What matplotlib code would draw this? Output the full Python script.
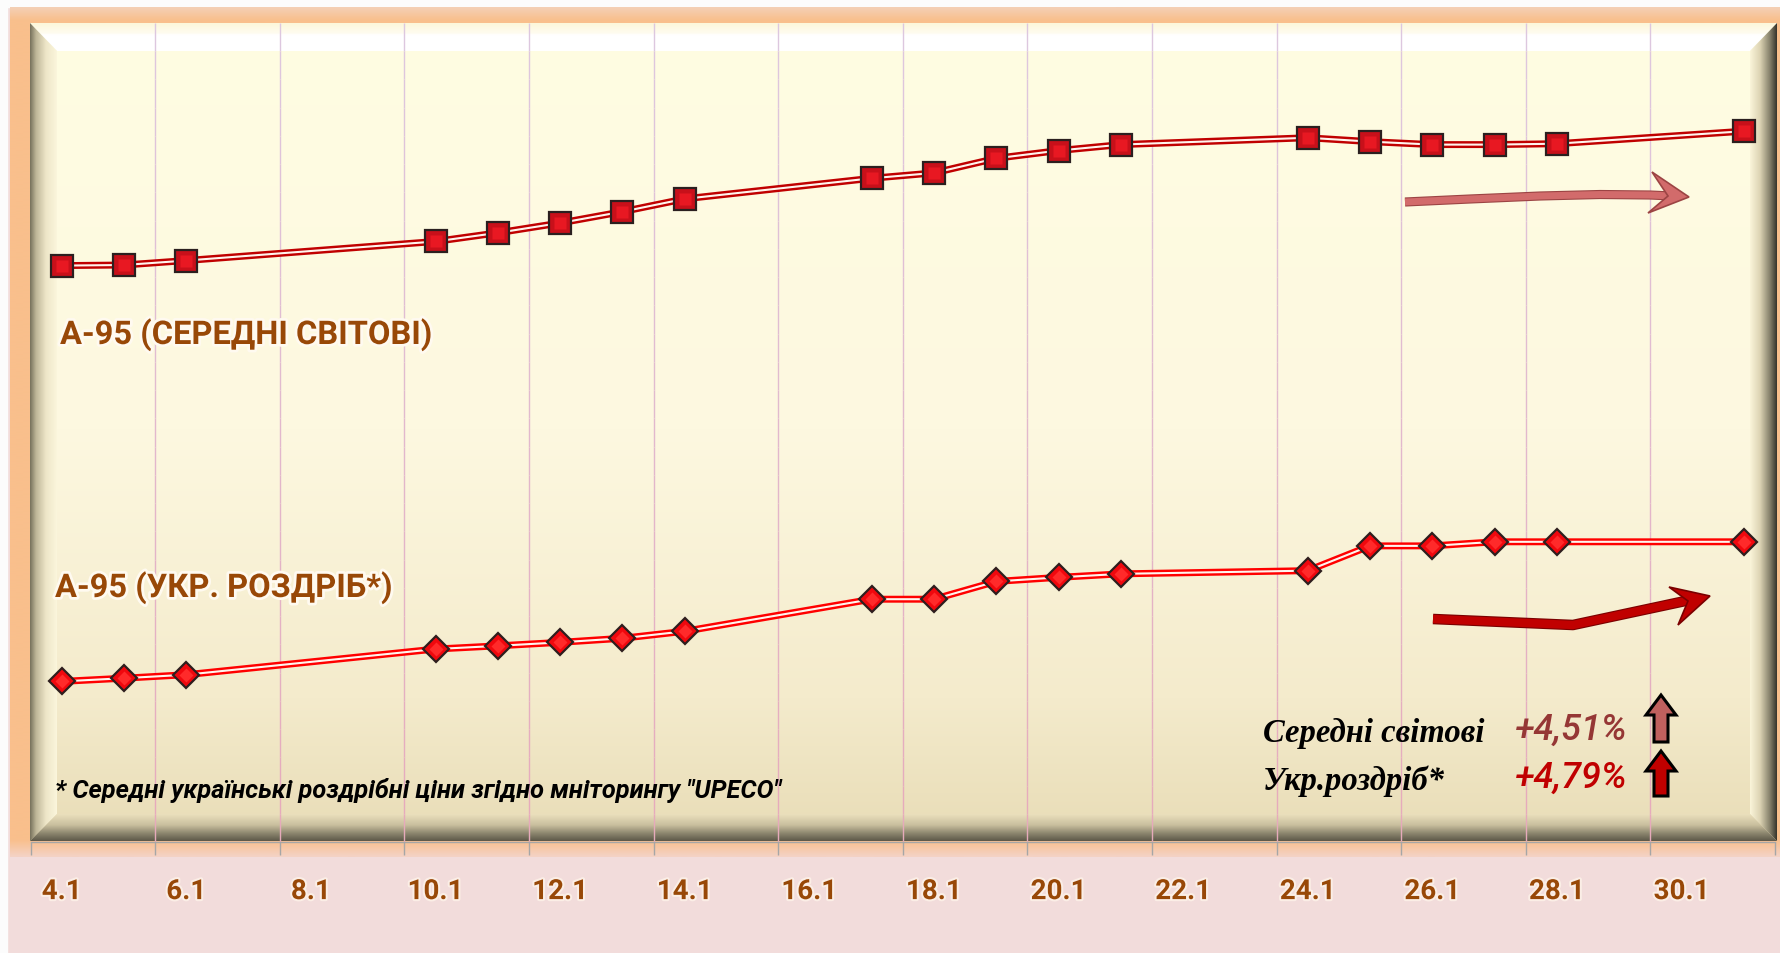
import numpy as np
import matplotlib
matplotlib.use('Agg')
import matplotlib.pyplot as plt
import matplotlib.patheffects as pe
from matplotlib.colors import to_rgb
from matplotlib.patches import Polygon, Rectangle
from matplotlib.collections import LineCollection

# data: January days and price index (start = 100)
days = [4, 5, 6, 10, 11, 12, 13, 14, 17, 18, 19, 20, 21, 24, 25, 26, 27, 28, 31]
world = [100.00, 100.02, 100.17, 100.81, 101.10, 101.43, 101.81, 102.24, 102.93, 103.11,
         103.60, 103.86, 104.06, 104.29, 104.16, 104.06, 104.06, 104.09, 104.51]
retail = [100.00, 100.11, 100.23, 101.11, 101.22, 101.34, 101.48, 101.72, 102.82, 102.82,
          103.43, 103.57, 103.69, 103.80, 104.65, 104.65, 104.79, 104.79, 104.79]
tick_days = list(range(4, 31, 2))
tick_labels = [f'{d}.1' for d in tick_days]
label_world = 'А-95 (СЕРЕДНІ СВІТОВІ)'
label_retail = 'А-95 (УКР. РОЗДРІБ*)'
footnote = '* Середні українські роздрібні ціни згідно мніторингу "UPECO"'
summary_names = ['Середні світові', 'Укр.роздріб*']
summary_values = ['+4,51%', '+4,79%']

W, H = 1781, 954
BROWN = '#984807'


def gradient(ax, x0, y0, x1, y1, stops, vertical=True, clip=None, zorder=1):
    """Fill a box with a multi-stop linear gradient; stops = [(pos, color), ...] in pixels."""
    n = 400
    t = np.linspace(y0, y1, n) if vertical else np.linspace(x0, x1, n)
    pos = [s[0] for s in stops]
    cols = np.array([to_rgb(s[1]) for s in stops])
    img = np.stack([np.interp(t, pos, cols[:, k]) for k in range(3)], axis=-1)
    img = img[:, None, :] if vertical else img[None, :, :]
    im = ax.imshow(img, extent=(x0, x1, y1, y0), aspect='auto',
                   interpolation='bilinear', zorder=zorder)
    if clip is not None:
        poly = Polygon(clip, closed=True, transform=ax.transData, facecolor='none', edgecolor='none')
        ax.add_patch(poly)
        im.set_clip_path(poly)
    return im


fig = plt.figure(figsize=(W / 100, H / 100), dpi=100)

# ---- background, frame and bevel (pixel coordinates) ----
bg = fig.add_axes([0, 0, 1, 1], zorder=0)
bg.set_autoscale_on(False)
bg.set_xlim(0, W)
bg.set_ylim(H, 0)
bg.axis('off')
bg.add_patch(Rectangle((0, 0), W, H, color='#f2dcdb', zorder=0))
bg.add_patch(Rectangle((0, 0), W, 8, color='#fcfcfc', zorder=0))
bg.add_patch(Rectangle((0, 0), 7, H, color='#fcfcfc', zorder=0))
gradient(bg, 10, 8, W, 858, [(8, '#f4cfb4'), (20, '#f9bf8c'), (842, '#f9bf8c'), (858, '#f4d2c4')], zorder=0.5)

ox0, oy0, ox1, oy1 = 30, 24, 1777, 842
ix0, iy0, ix1, iy1 = 57, 52, 1750, 815
gradient(bg, ox0, oy0, ox1, oy1,
         [(oy0, '#fffde2'), (430, '#fdf8e0'), (700, '#f4ebcc'), (oy1, '#e8dcb6')], zorder=1)
# bevel sides
gradient(bg, ox0, oy0, ox1, iy0, [(oy0, '#fcf7d9'), (34, '#fffcf0'), (36, '#ffffff'), (iy0, '#ffffff')],
         clip=[(ox0, oy0), (ox1, oy0), (ix1, iy0), (ix0, iy0)], zorder=1.2)
gradient(bg, ox0, oy0, ix0, oy1, [(ox0, '#756f5a'), (36, '#bdb597'), (46, '#eee6c8'), (ix0, '#fbf6dc')],
         vertical=False, clip=[(ox0, oy0), (ix0, iy0), (ix0, iy1), (ox0, oy1)], zorder=1.2)
gradient(bg, ix1, oy0, ox1, oy1, [(ix1, '#fbf5da'), (1760, '#ddd4b4'), (1770, '#85806a'), (ox1, '#34322a')],
         vertical=False, clip=[(ox1, oy0), (ox1, oy1), (ix1, iy1), (ix1, iy0)], zorder=1.2)
gradient(bg, ox0, iy1, ox1, oy1, [(iy1, '#ebe0bd'), (826, '#c9bf9e'), (834, '#8e8870'), (oy1, '#5c5848')],
         clip=[(ox0, oy1), (ix0, iy1), (ix1, iy1), (ox1, oy1)], zorder=1.2)

# ---- data axes ----
ax = fig.add_axes([30.6 / W, (H - 843) / H, (1775 - 30.6) / W, (843 - 24) / H], zorder=2)
ax.patch.set_visible(False)
ax.set_xlim(3.5, 31.5)
ax.set_ylim(94.49, 122.59)
ax2 = ax.twinx()
ax2.set_ylim(80.66, 108.14)
for a in (ax, ax2):
    for s in ('top', 'left', 'right'):
        a.spines[s].set_visible(False)
    a.set_yticks([])
ax2.spines['bottom'].set_visible(False)
ax.spines['bottom'].set_color('#a6a6a6')
ax.spines['bottom'].set_linewidth(1.0)

ax.set_xticks(np.arange(3.5, 32, 2))
ax.set_xticklabels([])
ax.tick_params(axis='x', which='major', length=9, width=1, color='#a6a6a6', direction='out')
ax.set_xticks(tick_days, minor=True)
ax.set_xticklabels(tick_labels, minor=True, fontsize=20, fontweight='bold',
                   color=BROWN, family=['Roboto', 'DejaVu Sans'])
ax.tick_params(axis='x', which='minor', length=0, pad=26)
for lab in ax.get_xticklabels(minor=True):
    lab.set_path_effects([pe.withStroke(linewidth=3, foreground='#fbeee6')])

# vertical gridlines, lavender at top fading to pink at bottom
grid_x = np.arange(5.5, 30, 2)
ys = np.linspace(0, 1, 30)
top_c = np.array(to_rgb('#ddc8e0'))
bot_c = np.array(to_rgb('#e6aabb'))
segs, cols = [], []
for gx in grid_x:
    for k in range(len(ys) - 1):
        segs.append([(gx, ys[k]), (gx, ys[k + 1])])
        f = ys[k]
        cols.append(bot_c * (1 - f) + top_c * f)
ax.add_collection(LineCollection(segs, colors=cols, linewidths=1.0,
                                 transform=ax.get_xaxis_transform(), zorder=1))

# world average series (squares)
ax2.plot(days, world, color='#c00000', lw=5.0, solid_joinstyle='round', zorder=3)
ax2.plot(days, world, color='#fff4ee', lw=1.5, solid_joinstyle='round', zorder=4)
ax2.plot(days, world, ls='none', marker='s', ms=15.5, mfc='#c8101a', mec='#2b1f1f', mew=1.6, zorder=5)
ax2.plot(days, world, ls='none', marker='s', ms=8, mfc='#e81822', mec='none', zorder=6)

# Ukrainian retail series (diamonds)
ax.plot(days, retail, color='#ff0000', lw=5.0, solid_joinstyle='round', zorder=3)
ax.plot(days, retail, color='#fff4ee', lw=1.5, solid_joinstyle='round', zorder=4)
ax.plot(days, retail, ls='none', marker='D', ms=13.5, mfc='#f0080e', mec='#2e1e1e', mew=1.6, zorder=5)
ax.plot(days, retail, ls='none', marker='D', ms=7, mfc='#ff2a2a', mec='none', zorder=6)

# ---- overlay: texts and arrows ----
ov = fig.add_axes([0, 0, 1, 1], zorder=3)
ov.set_autoscale_on(False)
ov.set_xlim(0, W)
ov.set_ylim(H, 0)
ov.axis('off')
ov.patch.set_visible(False)

glow = [pe.withStroke(linewidth=4, foreground='#fffaf0')]
ov.text(60, 345, label_world, fontsize=23.5, fontweight='bold', color=BROWN,
        family=['Roboto', 'DejaVu Sans'], va='baseline', ha='left', path_effects=glow)
ov.text(55, 598, label_retail, fontsize=23.5, fontweight='bold', color=BROWN,
        family=['Roboto', 'DejaVu Sans'], va='baseline', ha='left', path_effects=glow)
ov.text(55, 791, footnote, fontsize=18.3, fontweight='bold', style='italic', color='black',
        family=['Roboto', 'DejaVu Sans'], va='center', ha='left')

name_y = [742, 790]
val_colors = ['#953735', '#c00000']
for name, val, yb, vc in zip(summary_names, summary_values, name_y, val_colors):
    ov.text(1263, yb, name, fontsize=23.5, fontweight='bold', style='italic', color='black',
            family=['Liberation Serif', 'DejaVu Serif'], va='baseline', ha='left')
    ov.text(1515, yb - 2, val, fontsize=26, style='italic', fontweight='medium', color=vc,
            family=['Roboto', 'DejaVu Sans'], va='baseline', ha='left')


def up_arrow(cx, y0, y1, face):
    hw, sw, hh = 15, 7, 20
    pts = [(cx, y0), (cx + hw, y0 + hh), (cx + sw, y0 + hh), (cx + sw, y1),
           (cx - sw, y1), (cx - sw, y0 + hh), (cx - hw, y0 + hh)]
    ov.add_patch(Polygon(pts, closed=True, facecolor=face, edgecolor='black', lw=2.2, zorder=4))


up_arrow(1661, 696, 743, '#c0605e')
up_arrow(1661, 752, 797, '#c00000')


def curved_arrow(xs, ys_, tip, wing1, notch, wing2, face, edge, width):
    ov.plot(xs, ys_, color=face, lw=width, solid_capstyle='butt', solid_joinstyle='round', zorder=4,
            path_effects=[pe.Stroke(linewidth=width + 1.6, foreground=edge), pe.Normal()])
    ov.add_patch(Polygon([tip, wing1, notch, wing2], closed=True, facecolor=face,
                         edgecolor=edge, lw=1.2, zorder=5))


curved_arrow([1405, 1470, 1540, 1600, 1650, 1672], [203, 200, 197, 195.5, 196, 197],
             (1689, 198), (1652, 173), (1668, 197), (1648, 214), '#d26b6b', '#9c4444', 5)
curved_arrow([1433, 1573, 1690], [620, 626, 601],
             (1710, 597), (1669, 588), (1688, 602), (1678, 626), '#c00000', '#7a0000', 6)

fig.savefig('out.png', dpi=100)
